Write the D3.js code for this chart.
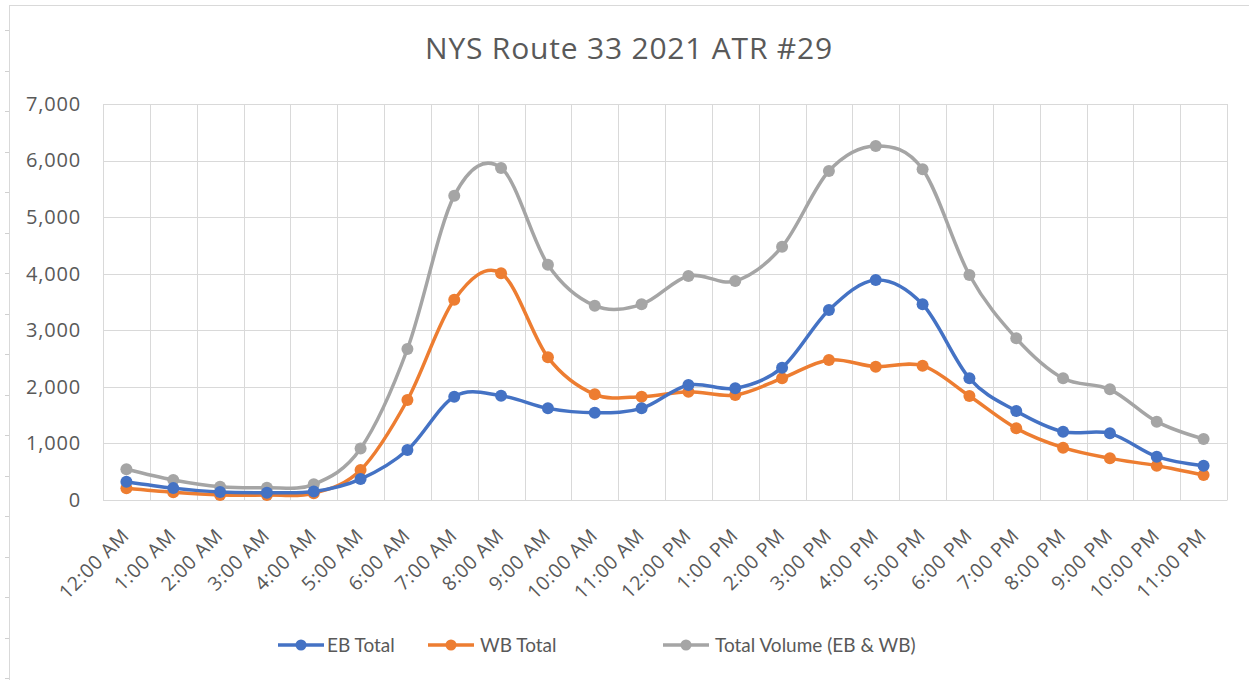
<!DOCTYPE html>
<html>
<head>
<meta charset="utf-8">
<script src="https://cdn.jsdelivr.net/npm/d3@7"></script>
<style>
  html, body { margin: 0; padding: 0; background: #fff; }
  svg { display: block; }
  text { font-family: "Lato", "Open Sans", "Liberation Sans", sans-serif; fill: #595959; }
  .os { font-family: "Open Sans", "Lato", sans-serif; }
</style>
</head>
<body>
<svg id="chart" width="1249" height="680"></svg>
<script>
const categories = ["12:00 AM","1:00 AM","2:00 AM","3:00 AM","4:00 AM","5:00 AM","6:00 AM","7:00 AM","8:00 AM","9:00 AM","10:00 AM","11:00 AM",
  "12:00 PM","1:00 PM","2:00 PM","3:00 PM","4:00 PM","5:00 PM","6:00 PM","7:00 PM","8:00 PM","9:00 PM","10:00 PM","11:00 PM"];
const ebTotal  = [324, 210, 140, 130, 150, 370, 884, 1826, 1844, 1620, 1544, 1620, 2033, 1974, 2339, 3359, 3889, 3459, 2151, 1573, 1208, 1178, 766, 607];
const wbTotal  = [206, 136, 90, 88, 120, 530, 1768, 3540, 4010, 2522, 1868, 1827, 1915, 1856, 2151, 2475, 2357, 2374, 1838, 1267, 925, 736, 607, 442];
const totalVol = [543, 354, 235, 218, 277, 910, 2669, 5380, 5870, 4160, 3435, 3459, 3960, 3871, 4478, 5816, 6258, 5846, 3977, 2858, 2151, 1957, 1385, 1078];
const yTicks = [0, 1000, 2000, 3000, 4000, 5000, 6000, 7000];
const seriesNames = ["EB Total", "WB Total", "Total Volume (EB & WB)"];
const seriesColors = ["#4472C4", "#ED7D31", "#A5A5A5"];
const title = "NYS Route 33 2021 ATR #29";

const svg = d3.select("#chart");
const W = 1249, H = 680;
const m = { left: 103, right: 1227, top: 104, bottom: 500 };

// chart frame
svg.append("rect").attr("x", 9.5).attr("y", 5.5).attr("width", W + 10).attr("height", H + 10)
  .attr("fill", "#fff").attr("stroke", "#D9D9D9");
d3.range(30, H, 40.5).forEach(y => {
  svg.append("line").attr("x1", 5).attr("x2", 9).attr("y1", Math.round(y) + 0.5).attr("y2", Math.round(y) + 0.5)
    .attr("stroke", "#D0D0D0");
});

const x = d3.scaleBand().domain(categories).range([m.left, m.right]).padding(0);
const y = d3.scaleLinear().domain([0, 7000]).range([m.bottom, m.top]);

// horizontal gridlines
svg.append("g").selectAll("line").data(yTicks).join("line")
  .attr("x1", m.left).attr("x2", m.right)
  .attr("y1", d => Math.round(y(d)) + 0.5).attr("y2", d => Math.round(y(d)) + 0.5)
  .attr("stroke", "#D9D9D9").attr("stroke-width", 1);

// vertical gridlines at band boundaries
const bounds = categories.map(c => x(c)).concat([m.right]);
svg.append("g").selectAll("line").data(bounds).join("line")
  .attr("x1", d => Math.round(d) + 0.5).attr("x2", d => Math.round(d) + 0.5)
  .attr("y1", m.top).attr("y2", m.bottom)
  .attr("stroke", "#D9D9D9").attr("stroke-width", 1);

// y axis labels
const yAxis = d3.axisLeft(y).tickValues(yTicks).tickSize(0).tickPadding(22).tickFormat(d3.format(","));
const gy = svg.append("g").attr("transform", `translate(${m.left},0)`).call(yAxis);
gy.select(".domain").remove();
gy.selectAll("text").attr("class", "os").style("font-size", "20px").style("letter-spacing", "0.8px").attr("fill", "#595959");

// x axis labels
const xAxis = d3.axisBottom(x).tickSize(0).tickPadding(0);
const gx = svg.append("g").attr("transform", `translate(0,${m.bottom})`).call(xAxis);
gx.select(".domain").attr("stroke", "#D9D9D9");
gx.selectAll("text")
  .attr("class", "os")
  .style("font-size", "19.5px").style("letter-spacing", "0.6px").attr("fill", "#595959")
  .attr("text-anchor", "end")
  .attr("dy", null).attr("y", 0)
  .attr("transform", "translate(4,37) rotate(-45)");

// title
svg.append("text").attr("class", "os").attr("x", 629).attr("y", 59).attr("text-anchor", "middle")
  .style("font-size", "30px").style("letter-spacing", "0.8px").text(title);

// series
const allSeries = [ebTotal, wbTotal, totalVol];
const line = d3.line()
  .x((d, i) => x(categories[i]) + x.bandwidth() / 2)
  .y(d => y(d))
  .curve(d3.curveCardinal.tension(0));

[2, 1, 0].forEach(si => {
  const g = svg.append("g");
  g.append("path").datum(allSeries[si]).attr("d", line)
    .attr("fill", "none").attr("stroke", seriesColors[si]).attr("stroke-width", 3.5)
    .attr("stroke-linejoin", "round").attr("stroke-linecap", "round");
  g.selectAll("circle").data(allSeries[si]).join("circle")
    .attr("cx", (d, i) => x(categories[i]) + x.bandwidth() / 2)
    .attr("cy", d => y(d)).attr("r", 6)
    .attr("fill", seriesColors[si]);
});

// legend
const legendItems = [
  { lx: 278, tx: 327 },
  { lx: 428, tx: 480 },
  { lx: 663, tx: 715 }
];
const ly = 645;
legendItems.forEach((it, i) => {
  svg.append("line").attr("x1", it.lx).attr("x2", it.lx + 46).attr("y1", ly).attr("y2", ly)
    .attr("stroke", seriesColors[i]).attr("stroke-width", 3.5);
  svg.append("circle").attr("cx", it.lx + 23).attr("cy", ly).attr("r", 5.5).attr("fill", seriesColors[i]);
  svg.append("text").attr("x", it.tx).attr("y", ly + 7).style("font-size", "19px").text(seriesNames[i]);
});
</script>
</body>
</html>
